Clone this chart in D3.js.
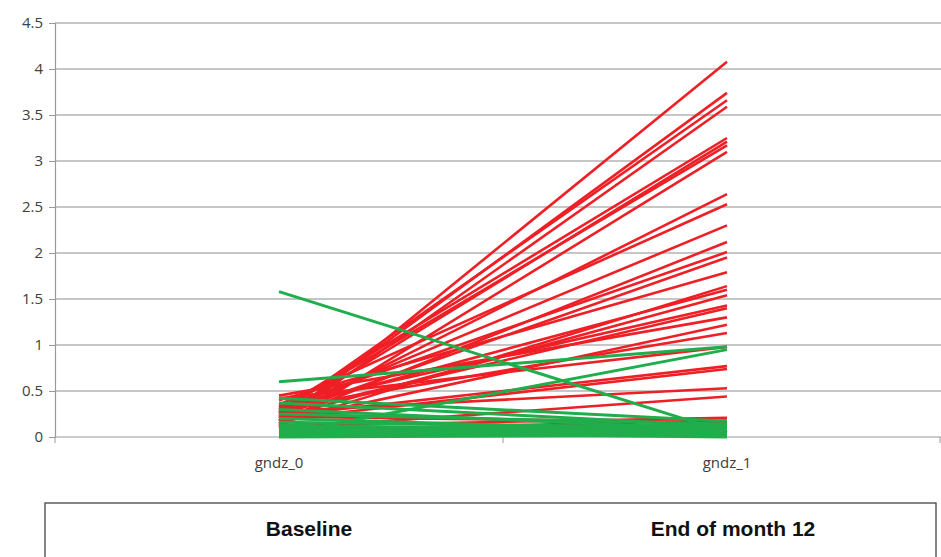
<!DOCTYPE html>
<html><head><meta charset="utf-8">
<script src="https://cdn.jsdelivr.net/npm/d3@7"></script>
<style>body{margin:0;background:#fff;}svg{display:block;}</style>
</head><body>
<svg id="c" width="941" height="557"></svg>
<script>
const categories = ["gndz_0", "gndz_1"];
const yTicks = [0, 0.5, 1, 1.5, 2, 2.5, 3, 3.5, 4, 4.5];
const redStart = [0.12,0.18,0.25,0.15,0.30,0.22,0.28,0.10,0.20,0.35,0.27,0.18,0.32,0.24,0.40,0.14,0.29,0.21,0.33,0.26,0.45,0.17,0.31,0.42,0.23,0.19,0.28,0.09,0.12,0.07,0.22];
const redEnd   = [4.08,3.74,3.66,3.59,3.25,3.21,3.17,3.10,2.64,2.53,2.30,2.12,2.01,1.95,1.79,1.64,1.60,1.54,1.43,1.40,1.30,1.22,1.13,0.98,0.77,0.74,0.53,0.44,0.21,0.18,0.16];
const greenStart = [1.58,0.60,0.03,0.42,0.37,0.30,0.25,0.20,0.16,0.12,0.10,0.08,0.06,0.05,0.04,0.03,0.02,0.01,0.09,0.07,0.11,0.13,0.05,0.02,0.00,0.04,0.08,0.12,0.10,0.06];
const greenEnd   = [0.05,0.98,0.95,0.17,0.12,0.08,0.14,0.06,0.10,0.03,0.02,0.09,0.05,0.11,0.07,0.03,0.06,0.04,0.01,0.08,0.05,0.02,0.00,0.10,0.02,0.12,0.04,0.07,0.13,0.01];
const boxLabels = ["Baseline", "End of month 12"];

const svg = d3.select("#c");
const x = d3.scaleBand().domain(categories).range([55, 951]).padding(0);
const xc = c => x(c) + x.bandwidth() / 2;
const y = d3.scaleLinear().domain([0, 4.5]).range([437, 23]);
const tickFont = "Open Sans, Liberation Sans, sans-serif";

// gridlines
svg.append("g").selectAll("line").data(yTicks.filter(t => t > 0)).join("line")
  .attr("x1", 55).attr("x2", 941).attr("y1", d => y(d)).attr("y2", d => y(d))
  .attr("stroke", "#b3b3b3").attr("stroke-width", 1.5);

// y axis
const ya = svg.append("g").attr("transform", "translate(55,0)")
  .call(d3.axisLeft(y).tickValues(yTicks).tickSize(6).tickPadding(6).tickFormat(d => String(d)));
ya.select(".domain").attr("stroke", "#999").attr("stroke-width", 1.2);
ya.selectAll(".tick line").attr("stroke", "#999");
ya.selectAll("text").attr("fill", "#404040").attr("font-family", tickFont).attr("font-size", 15);

// x axis
svg.append("line").attr("x1", 55).attr("x2", 941).attr("y1", y(0)).attr("y2", y(0)).attr("stroke", "#999").attr("stroke-width", 1.2);
svg.append("g").selectAll("line").data([55, 503, 940]).join("line")
  .attr("x1", d => d).attr("x2", d => d).attr("y1", y(0)).attr("y2", y(0) + 6).attr("stroke", "#999");
svg.append("g").selectAll("text").data(categories).join("text")
  .attr("x", d => xc(d)).attr("y", 468).attr("text-anchor", "middle")
  .attr("fill", "#404040").attr("font-family", tickFont).attr("font-size", 15)
  .text(d => d);

const line = d3.line().x(d => xc(d[0])).y(d => y(d[1]));
const mk = (s, e) => s.map((v, i) => [[categories[0], v], [categories[1], e[i]]]);

svg.append("g").selectAll("path").data(mk(redStart, redEnd)).join("path")
  .attr("d", line).attr("fill", "none").attr("stroke", "#ee1f25").attr("stroke-width", 2.6);
svg.append("g").selectAll("path").data(mk(greenStart, greenEnd)).join("path")
  .attr("d", line).attr("fill", "none").attr("stroke", "#1fae4b").attr("stroke-width", 3);

// lower box
svg.append("rect").attr("x", 45).attr("y", 503).attr("width", 891).attr("height", 70)
  .attr("fill", "none").attr("stroke", "#444").attr("stroke-width", 1.3);
svg.append("g").selectAll("text").data(boxLabels).join("text")
  .attr("x", (d, i) => [309, 733][i]).attr("y", 536).attr("text-anchor", "middle")
  .attr("font-family", "Liberation Sans, Arial, sans-serif").attr("font-weight", "bold").attr("font-size", 21)
  .attr("fill", "#111").text(d => d);
</script>
</body></html>
